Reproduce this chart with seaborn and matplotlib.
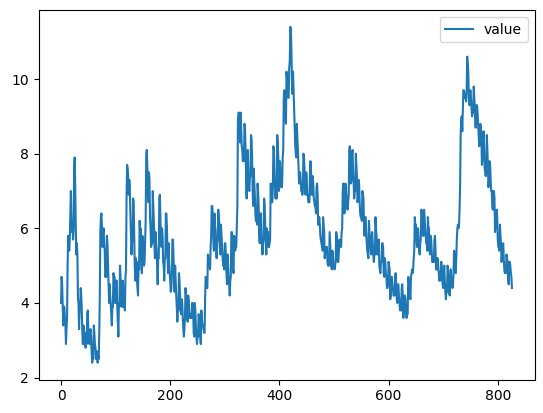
import numpy as np
import pandas as pd
import matplotlib
matplotlib.use("Agg")
import matplotlib.pyplot as plt
import seaborn as sns

# monthly unemployment rate (not seasonally adjusted), Jan 1948 onwards
rate_1940s = [
    4.0, 4.7, 4.5, 4.0, 3.4, 3.9, 3.9, 3.6, 3.4, 2.9, 3.3, 3.6,  # 1948
    5.0, 5.8, 5.6, 5.4, 5.7, 6.4, 7.0, 6.3, 5.9, 6.1, 5.7, 6.0,  # 1949
]
rate_1950s = [
    7.6, 7.9, 7.1, 6.0, 5.3, 5.6, 5.3, 4.1, 4.0, 3.3, 3.8, 3.9,
    4.4, 4.2, 3.8, 3.2, 2.9, 3.4, 3.3, 2.9, 3.0, 2.8, 3.2, 2.9,
    3.7, 3.8, 3.3, 3.0, 2.9, 3.2, 3.3, 3.1, 2.7, 2.4, 2.5, 2.5,
    3.4, 3.2, 2.9, 2.8, 2.5, 2.7, 2.7, 2.4, 2.6, 2.5, 3.2, 4.2,
    5.9, 6.3, 6.4, 6.0, 5.5, 5.9, 6.0, 5.6, 5.4, 4.7, 4.8, 4.7,
    5.8, 5.6, 5.1, 4.7, 4.0, 4.5, 4.2, 4.0, 3.7, 3.4, 3.9, 3.9,
    4.8, 4.7, 4.7, 4.0, 4.0, 4.6, 4.6, 3.9, 3.5, 3.1, 4.0, 3.9,
    5.0, 4.7, 4.1, 3.9, 3.9, 4.6, 4.4, 3.9, 4.0, 3.8, 4.7, 4.9,
    6.8, 7.7, 7.6, 7.4, 6.9, 7.3, 7.1, 6.4, 5.9, 5.3, 5.6, 5.7,
    6.8, 6.7, 5.9, 5.0, 4.6, 5.2, 5.1, 4.6, 4.4, 4.2, 5.1, 4.9,
]
rate_1960s = [
    6.2, 5.8, 6.0, 5.2, 4.8, 5.8, 5.7, 5.3, 5.0, 5.1, 5.6, 6.2,
    7.9, 8.1, 7.7, 7.0, 6.7, 7.5, 7.3, 6.3, 6.0, 5.5, 5.6, 5.6,
    7.0, 6.6, 6.2, 5.6, 5.2, 5.9, 5.6, 5.4, 5.0, 4.5, 5.2, 5.2,
    6.8, 6.9, 6.3, 5.7, 5.5, 6.0, 5.8, 5.1, 5.0, 4.6, 5.2, 5.2,
    6.4, 6.4, 6.0, 5.3, 4.8, 5.6, 5.1, 4.8, 4.6, 4.3, 4.4, 4.7,
    5.7, 5.7, 5.2, 4.8, 4.3, 5.0, 4.6, 4.2, 3.9, 3.5, 3.8, 3.8,
    4.8, 4.6, 4.2, 3.8, 3.7, 4.1, 4.0, 3.6, 3.3, 3.1, 3.3, 3.6,
    4.4, 4.2, 4.0, 3.6, 3.5, 4.2, 4.0, 3.7, 3.6, 3.6, 3.7, 3.6,
    4.0, 4.0, 3.8, 3.2, 3.1, 4.0, 3.8, 3.4, 3.1, 2.9, 3.1, 3.1,
    3.7, 3.6, 3.4, 3.1, 2.9, 3.8, 3.6, 3.4, 3.4, 3.3, 3.2, 3.2,
]
rate_1970s = [
    4.2, 4.7, 4.6, 4.4, 4.4, 5.3, 5.2, 5.0, 5.0, 4.9, 5.5, 5.8,
    6.6, 6.6, 6.3, 5.7, 5.4, 6.4, 6.1, 5.9, 5.5, 5.2, 5.6, 5.7,
    6.5, 6.3, 6.1, 5.5, 5.3, 6.1, 5.8, 5.5, 5.2, 5.0, 5.0, 4.9,
    5.6, 5.6, 5.2, 4.8, 4.5, 5.3, 5.0, 4.7, 4.5, 4.2, 4.6, 4.7,
    5.9, 5.9, 5.5, 4.9, 4.8, 5.8, 5.7, 5.4, 5.5, 5.5, 6.0, 6.6,
    8.9, 9.1, 9.1, 8.6, 8.3, 9.1, 8.7, 8.2, 8.1, 7.8, 7.8, 7.8,
    8.8, 8.7, 8.1, 7.4, 6.8, 8.0, 8.1, 7.6, 7.1, 7.0, 7.4, 7.4,
    8.5, 8.4, 7.9, 7.0, 6.6, 7.6, 7.2, 6.9, 6.4, 6.2, 6.5, 6.1,
    7.2, 7.0, 6.6, 5.8, 5.6, 6.4, 6.4, 5.8, 5.6, 5.3, 5.6, 5.7,
    6.8, 6.6, 6.1, 5.6, 5.3, 6.0, 5.9, 5.9, 5.5, 5.5, 5.6, 5.7,
]
rate_1980s = [
    7.2, 7.1, 6.7, 6.7, 7.1, 8.2, 8.1, 7.5, 7.1, 6.8, 7.1, 6.8,
    8.5, 8.3, 7.9, 7.0, 7.1, 7.8, 7.5, 7.3, 7.1, 7.2, 7.9, 8.1,
    9.5, 9.7, 9.6, 9.0, 8.8, 10.2, 10.0, 9.6, 9.5, 9.5, 10.3, 10.5,
    11.4, 11.3, 10.8, 9.9, 9.6, 10.2, 9.7, 9.2, 8.8, 8.2, 8.0, 7.9,
    8.8, 8.4, 8.1, 7.6, 7.2, 7.3, 7.5, 7.3, 7.0, 7.0, 6.9, 7.0,
    8.0, 7.9, 7.6, 7.0, 6.9, 7.5, 7.4, 6.9, 6.9, 6.7, 6.7, 6.7,
    7.5, 7.8, 7.5, 6.9, 6.9, 7.4, 7.2, 6.8, 6.7, 6.6, 6.6, 6.4,
    7.1, 7.2, 6.9, 6.1, 6.1, 6.3, 6.1, 5.8, 5.7, 5.6, 5.5, 5.4,
    6.3, 6.1, 5.9, 5.2, 5.4, 5.4, 5.5, 5.5, 5.1, 5.0, 5.0, 5.0,
    5.9, 5.6, 5.3, 5.0, 4.9, 5.4, 5.3, 5.0, 5.0, 4.9, 5.0, 5.1,
]
rate_1990s = [
    5.9, 5.8, 5.5, 5.1, 5.1, 5.4, 5.7, 5.6, 5.6, 5.5, 5.9, 6.0,
    7.0, 7.2, 7.1, 6.4, 6.6, 7.2, 7.1, 6.8, 6.6, 6.5, 6.7, 6.9,
    8.1, 8.2, 7.8, 7.2, 7.3, 8.0, 8.1, 7.5, 7.2, 6.8, 7.0, 7.0,
    8.0, 7.7, 7.4, 6.7, 6.8, 7.3, 7.2, 6.7, 6.4, 6.3, 6.3, 6.2,
    7.0, 6.9, 6.8, 6.1, 5.8, 6.3, 6.3, 5.9, 5.6, 5.4, 5.3, 5.2,
    6.2, 5.9, 5.7, 5.5, 5.3, 5.8, 5.9, 5.6, 5.3, 5.1, 5.3, 5.3,
    6.3, 6.0, 5.8, 5.3, 5.3, 5.5, 5.7, 5.0, 4.9, 4.8, 5.1, 5.1,
    5.6, 5.6, 5.5, 4.8, 4.7, 5.2, 5.1, 4.8, 4.7, 4.4, 4.4, 4.5,
    5.1, 5.0, 4.9, 4.1, 4.2, 4.7, 4.7, 4.5, 4.4, 4.2, 4.2, 4.2,
    4.7, 4.8, 4.4, 4.1, 4.0, 4.5, 4.5, 4.2, 4.0, 3.8, 3.9, 3.8,
]
rate_2000s = [
    4.4, 4.5, 4.2, 3.6, 3.8, 4.2, 4.2, 4.1, 3.7, 3.6, 3.7, 3.7,
    4.7, 4.6, 4.5, 4.2, 4.1, 4.7, 4.8, 4.9, 4.8, 4.9, 5.2, 5.4,
    6.3, 6.1, 6.1, 5.7, 5.5, 6.0, 6.0, 5.7, 5.4, 5.3, 5.6, 5.7,
    6.5, 6.4, 6.2, 5.8, 5.8, 6.5, 6.3, 6.0, 5.8, 5.6, 5.6, 5.4,
    6.3, 6.0, 6.0, 5.4, 5.3, 5.8, 5.7, 5.4, 5.1, 5.1, 5.2, 5.1,
    5.7, 5.8, 5.4, 4.9, 4.9, 5.2, 5.2, 4.9, 4.8, 4.6, 4.8, 4.6,
    5.1, 5.1, 4.8, 4.5, 4.4, 4.8, 5.0, 4.6, 4.3, 4.1, 4.3, 4.3,
    5.0, 4.9, 4.5, 4.3, 4.2, 4.7, 4.9, 4.6, 4.5, 4.4, 4.5, 4.8,
    5.4, 5.2, 5.2, 4.8, 5.2, 5.7, 6.0, 6.1, 6.0, 6.1, 6.5, 7.1,
    8.5, 8.9, 9.0, 8.6, 9.1, 9.7, 9.7, 9.6, 9.5, 9.5, 9.4, 9.7,
]
rate_2010s = [
    10.6, 10.4, 10.2, 9.5, 9.3, 9.6, 9.7, 9.5, 9.2, 9.0, 9.3, 9.1,
    9.8, 9.5, 9.2, 8.7, 8.7, 9.3, 9.3, 9.1, 8.8, 8.5, 8.2, 8.3,
    8.8, 8.7, 8.4, 7.7, 7.9, 8.4, 8.6, 8.2, 7.6, 7.5, 7.4, 7.6,
    8.5, 8.1, 7.6, 7.1, 7.3, 7.8, 7.7, 7.3, 7.0, 7.0, 6.6, 6.5,
    7.0, 7.0, 6.8, 5.9, 6.1, 6.3, 6.5, 6.3, 5.7, 5.5, 5.5, 5.4,
    6.1, 5.8, 5.6, 5.1, 5.3, 5.5, 5.6, 5.2, 4.9, 4.8, 4.8, 4.8,
    5.3, 5.2, 5.1, 4.7, 4.5, 5.1, 5.1, 5.0, 4.8, 4.7, 4.4,
]


def make_plot():
    values = (rate_1940s + rate_1950s + rate_1960s + rate_1970s
              + rate_1980s + rate_1990s + rate_2000s + rate_2010s)
    df = pd.DataFrame({"value": values})

    fig = plt.figure(figsize=(5.43, 4.13), dpi=100)
    ax = fig.add_axes([38.5 / 543, 1 - 379.5 / 413, 496 / 543, 369.5 / 413])

    sns.lineplot(x=df.index, y=df["value"], ax=ax, color="#1f77b4",
                 linewidth=1.5, label="value")
    ax.set_xlabel("")
    ax.set_ylabel("")
    ax.set_yticks([2, 4, 6, 8, 10])
    ax.legend(loc="upper right")

    fig.savefig("out.png", dpi=100)
    plt.close(fig)


if __name__ == "__main__":
    make_plot()
